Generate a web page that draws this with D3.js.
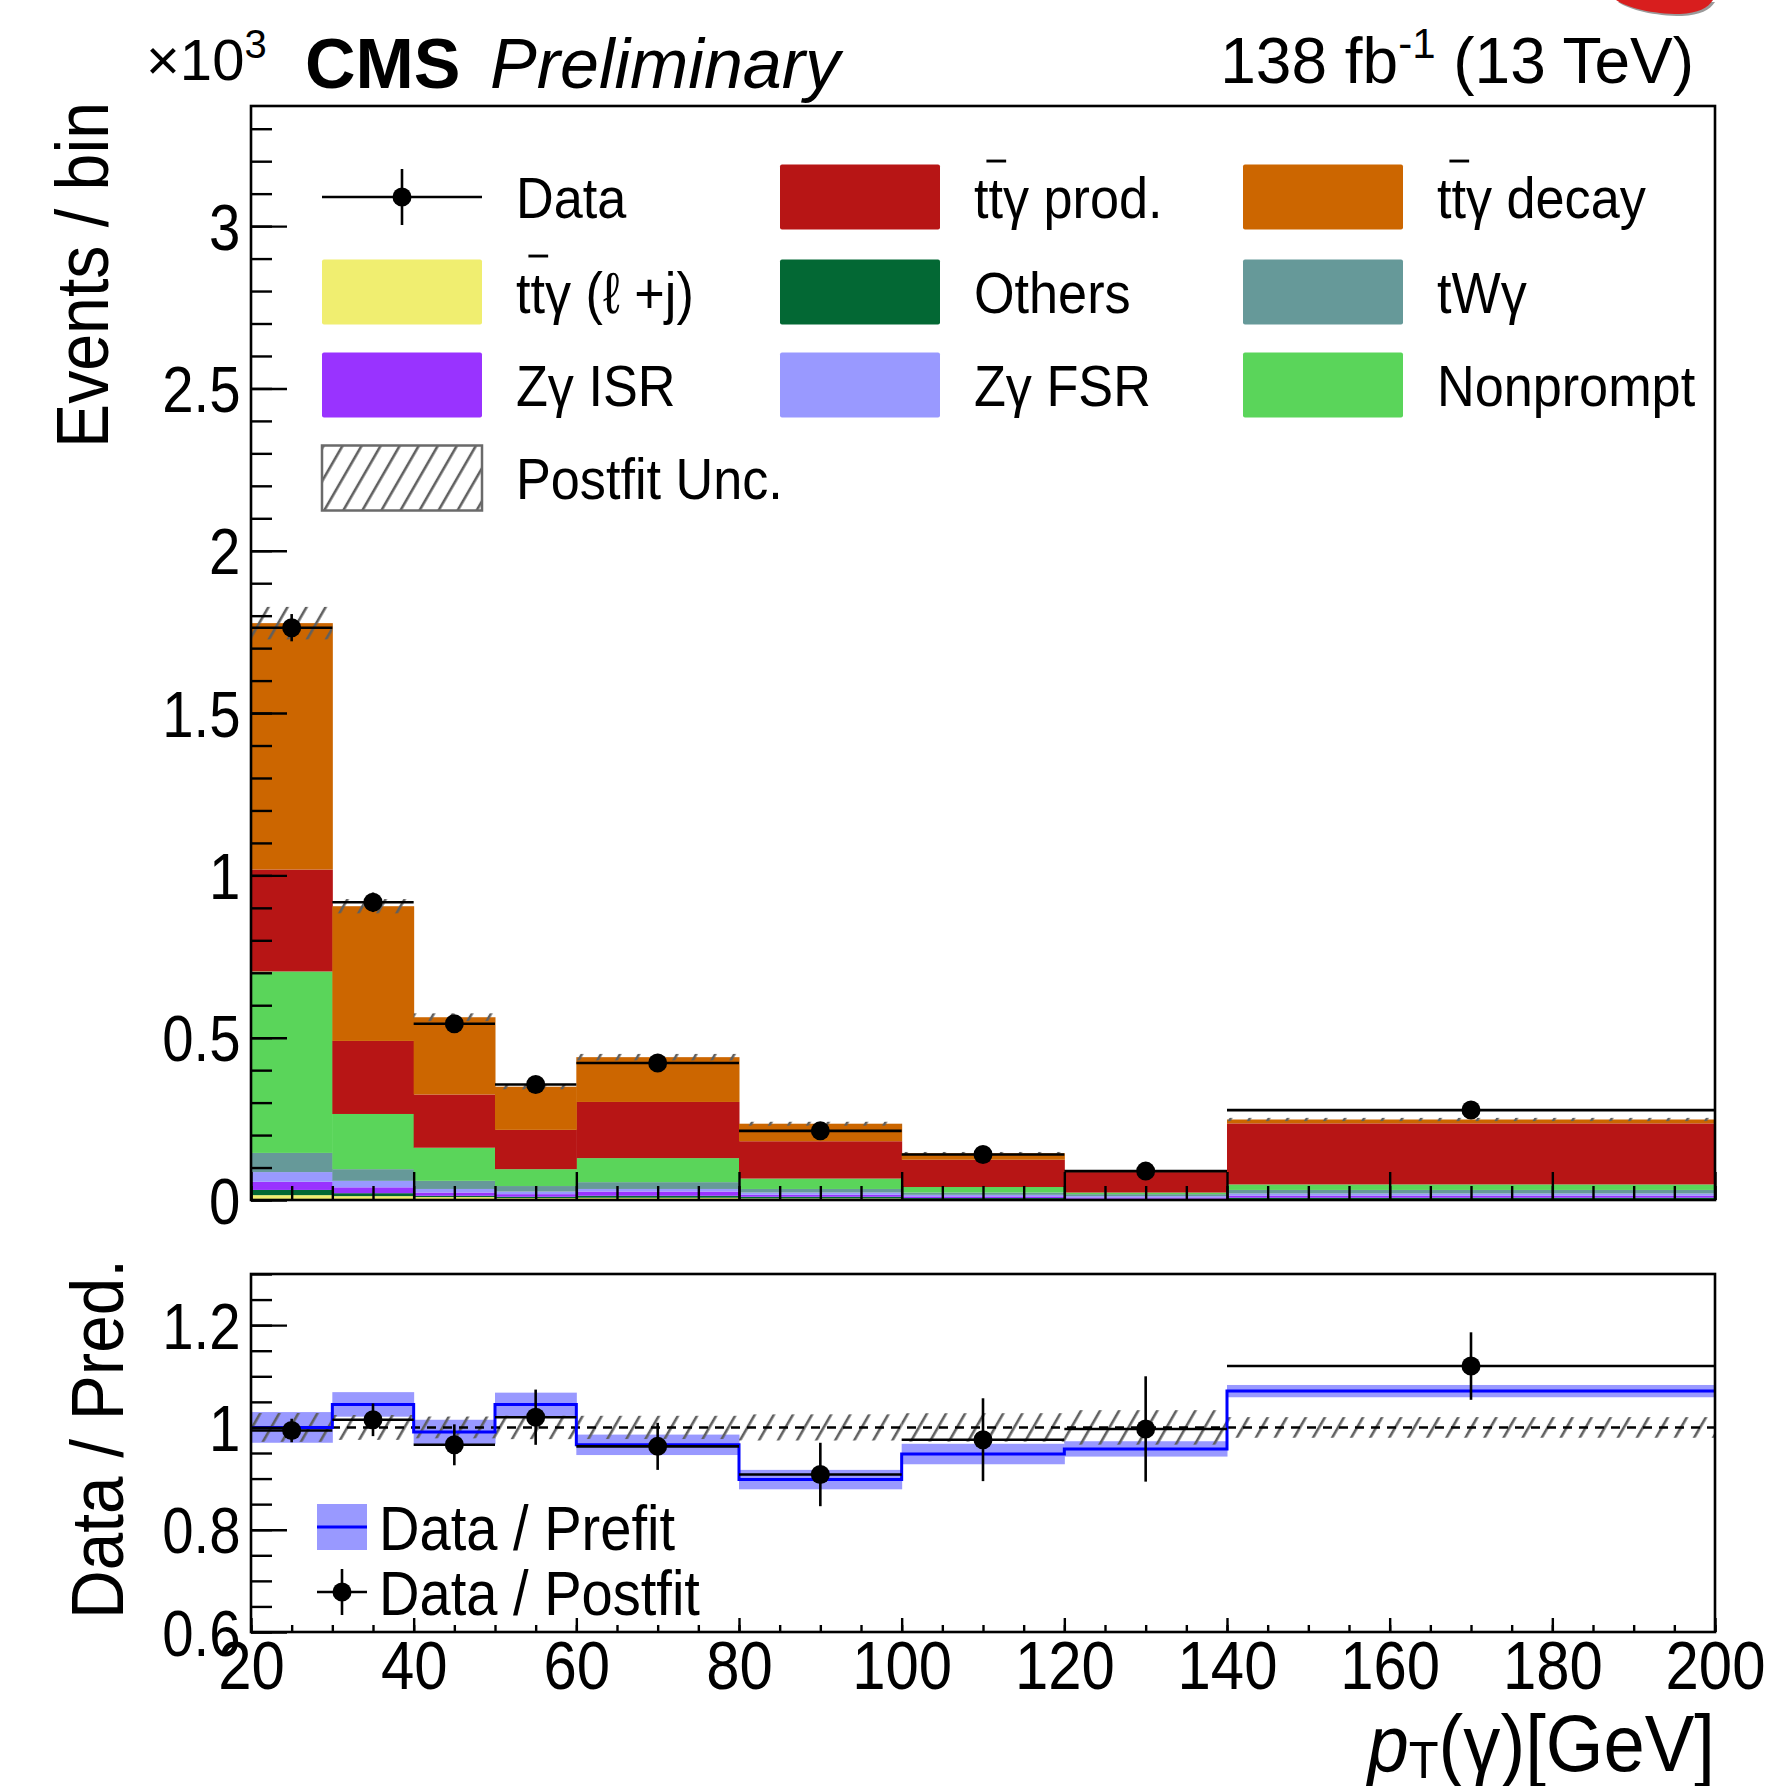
<!DOCTYPE html>
<html>
<head>
<meta charset="utf-8">
<script src="https://cdn.jsdelivr.net/npm/d3@7"></script>
<style>
  body { margin: 0; background: #fff; }
  svg { display: block; }
  text { font-family: "Liberation Sans", Arial, Helvetica, sans-serif; fill: #000; }
</style>
</head>
<body>
<svg id="chart" width="1782" height="1786"></svg>
<script>
// ---- binning (GeV) ----
const binEdges = [20, 30, 40, 50, 60, 80, 100, 120, 140, 200];

// ---- stacked expectations, events per bin (bottom of stack first) ----
const ttgLJ     = [15, 12, 9, 6, 7, 5, 3, 2, 3];
const others    = [16, 9, 4, 4, 6, 5, 3, 2, 4];
const zgISR     = [25, 18, 10, 8, 13, 6, 5, 4, 6];
const zgFSR     = [30, 20, 11, 8, 8, 7, 5, 4, 7];
const twg       = [59, 36, 25, 17, 21, 11, 7, 6, 11];
const nonprompt = [559, 170, 102, 52, 74, 32, 17, 5, 17];
const ttgProd   = [314, 225, 164, 121, 173, 115, 84, 63, 188];
const ttgDecay  = [759, 415, 238, 133, 138, 54, 20, 3, 12];
const postfitUnc = [50, 22, 12, 8, 10, 6, 4, 3, 5];

// ---- observed data ----
const dataCounts = [1763, 917, 543, 356, 422, 213, 140, 89, 277];
const dataErr    = [42, 30, 23, 19, 21, 15, 12, 9.4, 17];

// ---- ratio panel ----
const ratioPostfit    = [0.994, 1.015, 0.966, 1.020, 0.963, 0.908, 0.976, 0.997, 1.120];
const ratioPostfitErr = [0.023, 0.032, 0.040, 0.054, 0.046, 0.062, 0.081, 0.103, 0.066];
const ratioPrefit     = [1.000, 1.045, 0.991, 1.045, 0.966, 0.898, 0.948, 0.958, 1.071];
const ratioPrefitUnc  = [0.030, 0.024, 0.024, 0.023, 0.020, 0.019, 0.020, 0.015, 0.012];

// ---- tick labels ----
const xTickValues = [20, 40, 60, 80, 100, 120, 140, 160, 180, 200];
const yTickValues = [0, 0.5, 1, 1.5, 2, 2.5, 3];      // x10^3 events
const ratioTickValues = [0.6, 0.8, 1, 1.2];

// ---- legend ----
const stackKeys   = ["ttgLJ", "others", "zgISR", "zgFSR", "twg", "nonprompt", "ttgProd", "ttgDecay"];
const stackColors = {
  ttgLJ: "#f0ee70", others: "#036834", zgISR: "#9933ff", zgFSR: "#9999ff",
  twg: "#669999", nonprompt: "#5ad55a", ttgProd: "#b71515", ttgDecay: "#cc6600"
};
const legendRows = [
  [{type: "data", label: "Data"}, {key: "ttgProd", label: "ttγ prod.", bar: true}, {key: "ttgDecay", label: "ttγ decay", bar: true}],
  [{key: "ttgLJ", label: "ttγ (ℓ +j)", bar: true}, {key: "others", label: "Others"}, {key: "twg", label: "tWγ"}],
  [{key: "zgISR", label: "Zγ ISR"}, {key: "zgFSR", label: "Zγ FSR"}, {key: "nonprompt", label: "Nonprompt"}],
  [{type: "unc", label: "Postfit Unc."}]
];

// ---- layout ----
const SX = 0.88;           // horizontal condensing of regular text
const frame = {left: 251, right: 1715};
const mainPad = {top: 106, bottom: 1200};
const ratioPad = {top: 1274, bottom: 1632};

const svg = d3.select("#chart");
const x = d3.scaleLinear().domain([20, 200]).range([frame.left, frame.right]);
const y = d3.scaleLinear().domain([0, 3370]).range([mainPad.bottom, mainPad.top]);
const yr = d3.scaleLinear().domain([0.6, 1.3]).range([ratioPad.bottom, ratioPad.top]);

const defs = svg.append("defs");
defs.append("pattern")
  .attr("id", "hatch").attr("patternUnits", "userSpaceOnUse")
  .attr("width", 16.5).attr("height", 16.5)
  .attr("patternTransform", "rotate(30)")
  .append("line")
  .attr("x1", 8).attr("y1", 0).attr("x2", 8).attr("y2", 16.5)
  .attr("stroke", "#5f5f5f").attr("stroke-width", 2.6);
defs.append("clipPath").attr("id", "clipMain").append("rect")
  .attr("x", frame.left).attr("y", mainPad.top)
  .attr("width", frame.right - frame.left).attr("height", mainPad.bottom - mainPad.top);
defs.append("clipPath").attr("id", "clipRatio").append("rect")
  .attr("x", frame.left).attr("y", ratioPad.top)
  .attr("width", frame.right - frame.left).attr("height", ratioPad.bottom - ratioPad.top);

// text helper: condensed regular text, optionally rotated
function label(parent, px, py, str, o = {}) {
  const g = parent.append("g")
    .attr("transform", `translate(${px},${py}) rotate(${o.rot || 0}) scale(${o.sx ?? SX},1)`);
  const t = g.append("text")
    .attr("font-size", o.size || 58)
    .attr("text-anchor", o.anchor || "start")
    .attr("font-weight", o.weight || "normal")
    .attr("font-style", o.style || "normal");
  if (o.parts) {
    o.parts.forEach(p => {
      const ts = t.append("tspan").text(p.text);
      if (p.size) ts.attr("font-size", p.size);
      if (p.dy) ts.attr("dy", p.dy);
      if (p.italic) ts.attr("font-style", "italic");
    });
  } else {
    t.text(str);
  }
  return {g, t};
}
// bar over the second "t" of "tt"
function antiTopBar(lbl, size) {
  const node = lbl.t.node();
  const x0 = node.getSubStringLength(0, 1);
  const w = node.getSubStringLength(1, 1);
  lbl.g.append("line")
    .attr("x1", x0 - 0.04 * size).attr("x2", x0 + w + 0.06 * size)
    .attr("y1", -0.98 * size).attr("y2", -0.98 * size)
    .attr("stroke", "#000").attr("stroke-width", 0.05 * size);
}

// ---- stacked histogram ----
const binTable = binEdges.slice(0, -1).map((lo, i) => ({
  lo, hi: binEdges[i + 1],
  ttgLJ: ttgLJ[i], others: others[i], zgISR: zgISR[i], zgFSR: zgFSR[i],
  twg: twg[i], nonprompt: nonprompt[i], ttgProd: ttgProd[i], ttgDecay: ttgDecay[i]
}));
const stacked = d3.stack().keys(stackKeys)(binTable);
const totals = binTable.map((b, i) => stackKeys.reduce((s, k) => s + b[k], 0));

const main = svg.append("g").attr("clip-path", "url(#clipMain)");
stacked.forEach(layer => {
  main.append("g").selectAll("rect").data(layer).join("rect")
    .attr("x", d => x(d.data.lo))
    .attr("width", d => x(d.data.hi) - x(d.data.lo) + 0.5)
    .attr("y", d => y(d[1]))
    .attr("height", d => y(d[0]) - y(d[1]))
    .attr("fill", stackColors[layer.key]);
});

// post-fit uncertainty band
main.append("g").selectAll("rect").data(binTable).join("rect")
  .attr("x", d => x(d.lo)).attr("width", d => x(d.hi) - x(d.lo))
  .attr("y", (d, i) => y(totals[i] + postfitUnc[i]))
  .attr("height", (d, i) => y(totals[i] - postfitUnc[i]) - y(totals[i] + postfitUnc[i]))
  .attr("fill", "url(#hatch)");

// data points
const dataG = main.append("g").attr("stroke", "#000").attr("stroke-width", 2.6);
binTable.forEach((b, i) => {
  const cx = x((b.lo + b.hi) / 2), cy = y(dataCounts[i]);
  dataG.append("line").attr("x1", x(b.lo)).attr("x2", x(b.hi)).attr("y1", cy).attr("y2", cy);
  dataG.append("line").attr("x1", cx).attr("x2", cx)
    .attr("y1", y(dataCounts[i] + dataErr[i])).attr("y2", y(dataCounts[i] - dataErr[i]));
  dataG.append("circle").attr("cx", cx).attr("cy", cy).attr("r", 9.5).attr("fill", "#000").attr("stroke", "none");
});

// ---- main axes ----
function styleAxis(g) {
  g.select(".domain").remove();
  g.selectAll(".tick line").attr("stroke", "#000").attr("stroke-width", 2.4);
}
const yMinor = d3.range(0, 3.35, 0.1).map(v => v * 1000);
svg.append("g").attr("transform", `translate(${frame.left},0)`)
  .call(d3.axisLeft(y).tickValues(yMinor).tickSize(-21).tickFormat(""))
  .call(styleAxis);
const yMajor = svg.append("g").attr("transform", `translate(${frame.left},0)`)
  .call(d3.axisLeft(y).tickValues(yTickValues.map(v => v * 1000)).tickSize(-36).tickPadding(12)
    .tickFormat(v => d3.format("~g")(v / 1000)))
  .call(styleAxis);
yMajor.selectAll(".tick text").attr("font-size", 64).attr("dy", "0.36em")
  .attr("font-family", '"Liberation Sans", Arial, sans-serif')
  .attr("transform", `scale(${SX},1)`);

const xMinor = d3.range(20, 201, 5);
svg.append("g").attr("transform", `translate(0,${mainPad.bottom})`)
  .call(d3.axisBottom(x).tickValues(xMinor).tickSize(-14).tickFormat("")).call(styleAxis);
svg.append("g").attr("transform", `translate(0,${mainPad.bottom})`)
  .call(d3.axisBottom(x).tickValues(xTickValues).tickSize(-28).tickFormat("")).call(styleAxis);

svg.append("rect").attr("x", frame.left).attr("y", mainPad.top)
  .attr("width", frame.right - frame.left).attr("height", mainPad.bottom - mainPad.top)
  .attr("fill", "none").attr("stroke", "#000").attr("stroke-width", 2.6);

// ---- ratio panel ----
const ratio = svg.append("g").attr("clip-path", "url(#clipRatio)");
// pre-fit band and line
ratio.append("g").selectAll("rect").data(binTable).join("rect")
  .attr("x", d => x(d.lo)).attr("width", d => x(d.hi) - x(d.lo) + 0.5)
  .attr("y", (d, i) => yr(ratioPrefit[i] + ratioPrefitUnc[i]))
  .attr("height", (d, i) => yr(ratioPrefit[i] - ratioPrefitUnc[i]) - yr(ratioPrefit[i] + ratioPrefitUnc[i]))
  .attr("fill", "#9999ff");
// post-fit uncertainty around unity
ratio.append("g").selectAll("rect").data(binTable).join("rect")
  .attr("x", d => x(d.lo)).attr("width", d => x(d.hi) - x(d.lo))
  .attr("y", (d, i) => yr(1 + postfitUnc[i] / totals[i]))
  .attr("height", (d, i) => yr(1 - postfitUnc[i] / totals[i]) - yr(1 + postfitUnc[i] / totals[i]))
  .attr("fill", "url(#hatch)");
ratio.append("line").attr("x1", frame.left).attr("x2", frame.right)
  .attr("y1", yr(1)).attr("y2", yr(1))
  .attr("stroke", "#000").attr("stroke-width", 2.4).attr("stroke-dasharray", "9,7");
const stepPts = binTable.map((b, i) => [b.lo, ratioPrefit[i]])
  .concat([[200, ratioPrefit[ratioPrefit.length - 1]]]);
ratio.append("path")
  .attr("d", d3.line().x(d => x(d[0])).y(d => yr(d[1])).curve(d3.curveStepAfter)(stepPts))
  .attr("fill", "none").attr("stroke", "#0000ff").attr("stroke-width", 3);
// data / post-fit points
const rG = ratio.append("g").attr("stroke", "#000").attr("stroke-width", 2.6);
binTable.forEach((b, i) => {
  const cx = x((b.lo + b.hi) / 2), cy = yr(ratioPostfit[i]);
  rG.append("line").attr("x1", x(b.lo)).attr("x2", x(b.hi)).attr("y1", cy).attr("y2", cy);
  rG.append("line").attr("x1", cx).attr("x2", cx)
    .attr("y1", yr(ratioPostfit[i] + ratioPostfitErr[i])).attr("y2", yr(ratioPostfit[i] - ratioPostfitErr[i]));
  rG.append("circle").attr("cx", cx).attr("cy", cy).attr("r", 9.5).attr("fill", "#000").attr("stroke", "none");
});

// ratio axes
const rMinor = d3.range(0.6, 1.301, 0.05);
svg.append("g").attr("transform", `translate(${frame.left},0)`)
  .call(d3.axisLeft(yr).tickValues(rMinor).tickSize(-21).tickFormat("")).call(styleAxis);
const rMajor = svg.append("g").attr("transform", `translate(${frame.left},0)`)
  .call(d3.axisLeft(yr).tickValues(ratioTickValues).tickSize(-36).tickPadding(12)
    .tickFormat(d3.format("~g")))
  .call(styleAxis);
rMajor.selectAll(".tick text").attr("font-size", 64).attr("dy", "0.36em")
  .attr("font-family", '"Liberation Sans", Arial, sans-serif')
  .attr("transform", `scale(${SX},1)`);
svg.append("g").attr("transform", `translate(0,${ratioPad.bottom})`)
  .call(d3.axisBottom(x).tickValues(xMinor).tickSize(-7).tickFormat("")).call(styleAxis);
const xAx = svg.append("g").attr("transform", `translate(0,${ratioPad.bottom})`)
  .call(d3.axisBottom(x).tickValues(xTickValues).tickSize(-14).tickPadding(10).tickFormat(d3.format("d")))
  .call(styleAxis);
xAx.selectAll(".tick text").attr("font-size", 68).attr("y", 57).attr("dy", 0)
  .attr("font-family", '"Liberation Sans", Arial, sans-serif')
  .attr("transform", `scale(${SX},1)`);

svg.append("rect").attr("x", frame.left).attr("y", ratioPad.top)
  .attr("width", frame.right - frame.left).attr("height", ratioPad.bottom - ratioPad.top)
  .attr("fill", "none").attr("stroke", "#000").attr("stroke-width", 2.6);

// ---- legend (main) ----
const colBox = [322, 780, 1243], colText = [516, 974, 1437], rowY = [197, 292, 385, 478];
const boxW = 160, boxH = 65, LF = 58;
const leg = svg.append("g");
legendRows.forEach((row, r) => {
  row.forEach((e, c) => {
    const bx = colBox[c], cy = rowY[r];
    if (e.type === "data") {
      leg.append("line").attr("x1", bx).attr("x2", bx + boxW).attr("y1", cy).attr("y2", cy)
        .attr("stroke", "#000").attr("stroke-width", 2.6);
      leg.append("line").attr("x1", bx + boxW / 2).attr("x2", bx + boxW / 2).attr("y1", cy - 28).attr("y2", cy + 28)
        .attr("stroke", "#000").attr("stroke-width", 2.6);
      leg.append("circle").attr("cx", bx + boxW / 2).attr("cy", cy).attr("r", 9.5).attr("fill", "#000");
    } else if (e.type === "unc") {
      leg.append("rect").attr("x", bx).attr("y", cy - boxH / 2).attr("width", boxW).attr("height", boxH)
        .attr("fill", "url(#hatch)").attr("stroke", "#6a6a6a").attr("stroke-width", 2.5);
    } else {
      leg.append("rect").attr("x", bx).attr("y", cy - boxH / 2).attr("width", boxW).attr("height", boxH)
        .attr("rx", 2).attr("fill", stackColors[e.key]);
    }
    const lbl = label(leg, colText[c], cy + 0.36 * LF, e.label, {size: LF, sx: 0.9});
    if (e.bar) antiTopBar(lbl, LF);
  });
});

// ---- legend (ratio) ----
const rl = svg.append("g");
rl.append("rect").attr("x", 317).attr("y", 1504).attr("width", 50).attr("height", 46).attr("fill", "#9999ff");
rl.append("line").attr("x1", 317).attr("x2", 367).attr("y1", 1527).attr("y2", 1527)
  .attr("stroke", "#0000ff").attr("stroke-width", 3);
label(rl, 379, 1527 + 0.36 * 63, "Data / Prefit", {size: 63, sx: 0.89});
rl.append("line").attr("x1", 317).attr("x2", 367).attr("y1", 1592).attr("y2", 1592)
  .attr("stroke", "#000").attr("stroke-width", 2.6);
rl.append("line").attr("x1", 342).attr("x2", 342).attr("y1", 1569).attr("y2", 1615)
  .attr("stroke", "#000").attr("stroke-width", 2.6);
rl.append("circle").attr("cx", 342).attr("cy", 1592).attr("r", 9.5).attr("fill", "#000");
label(rl, 379, 1592 + 0.36 * 63, "Data / Postfit", {size: 63, sx: 0.89});

// ---- axis titles ----
label(svg, 108, 102, "Events / bin", {rot: -90, size: 74, anchor: "end", sx: 0.895});
label(svg, 123, 1259, "Data / Pred.", {rot: -90, size: 75, anchor: "end", sx: 0.9});
label(svg, 1715, 1771, null, {size: 79, anchor: "end", sx: 0.94, parts: [
  {text: "p", italic: true}, {text: "T", size: 52, dy: "0.14em"}, {text: "(γ)[GeV]", dy: "-0.09em"}
]});

// ---- header ----
label(svg, 146, 80, null, {size: 58, sx: 1, parts: [
  {text: "×10"}, {text: "3", size: 40, dy: "-0.55em"}
]});
label(svg, 305, 88, "CMS", {size: 70, weight: "bold", sx: 1});
label(svg, 490, 88, "Preliminary", {size: 70, style: "italic", sx: 1});
label(svg, 1694, 83, null, {size: 64, anchor: "end", sx: 1, parts: [
  {text: "138 fb"}, {text: "-1", size: 42, dy: "-0.6em"}, {text: " (13 TeV)", dy: "0.4em"}
]});

// logo edge at the top right corner
svg.append("path")
  .attr("d", "M1616,0 C1628,8 1652,14 1680,14 C1698,13 1708,8 1713,0 Z")
  .attr("fill", "#9a9a9a").attr("transform", "translate(2,2)");
svg.append("path")
  .attr("d", "M1616,0 C1628,8 1652,14 1680,14 C1698,13 1708,8 1713,0 Z")
  .attr("fill", "#d81e1e");
</script>
</body>
</html>
